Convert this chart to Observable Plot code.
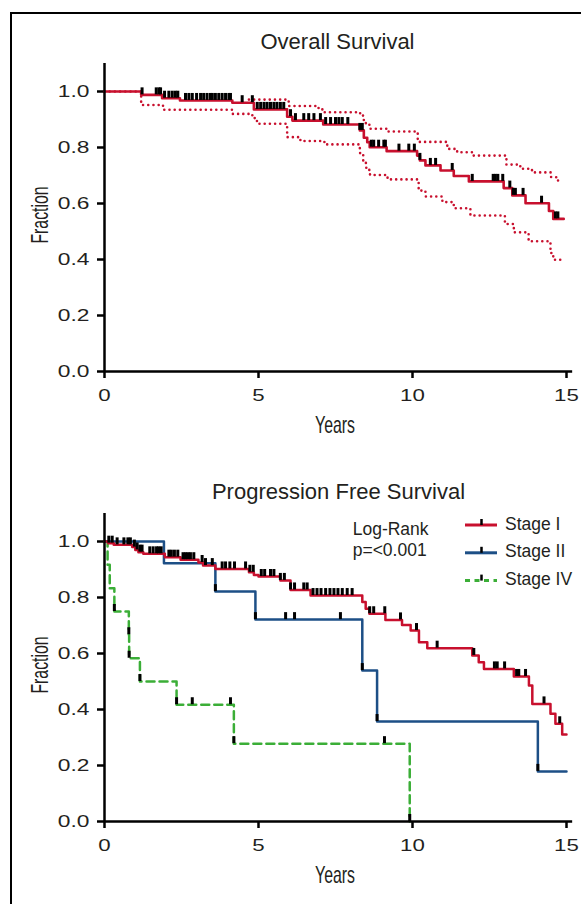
<!DOCTYPE html>
<html><head><meta charset="utf-8">
<script src="https://cdn.jsdelivr.net/npm/d3@7"></script>
<script src="https://cdn.jsdelivr.net/npm/@observablehq/plot@0.6"></script>
<style>
html,body{margin:0;padding:0;background:#fff;}
#wrap{position:relative;width:581px;height:904px;overflow:hidden;background:#fff;}
#frame{position:absolute;left:10px;top:12px;width:700px;height:1000px;border-left:2.5px solid #000;border-top:2.5px solid #000;}
</style></head>
<body><div id="wrap"><div id="frame"></div></div>
<script>
// ---------- data ----------
const xTicks = [0, 5, 10, 15];
const yTicks = [0, 0.2, 0.4, 0.6, 0.8, 1.0];

// Overall survival (Kaplan-Meier) + 95% CI
const osTime = [0, 1.19, 1.87, 2.45, 4.15, 4.85, 5.93, 6.1, 7.1, 8.29, 8.42, 8.53, 8.61, 9.16, 10.15, 10.24, 10.42, 10.91, 11.34, 11.83, 12.96, 13.24, 13.67, 14.43, 14.57, 14.91];
const osSurv = [1.0, 0.988, 0.976, 0.968, 0.96, 0.936, 0.91, 0.896, 0.882, 0.861, 0.835, 0.819, 0.801, 0.787, 0.771, 0.754, 0.736, 0.718, 0.698, 0.679, 0.655, 0.629, 0.601, 0.573, 0.545, 0.545];
const osUpperTime = [4.69, 5.98, 6.95, 7.14, 8.3, 8.42, 8.6, 9.2, 10.17, 11.13, 11.45, 11.94, 13.05, 13.5, 13.88, 14.5, 14.7, 14.78];
const osUpper = [0.971, 0.948, 0.936, 0.926, 0.914, 0.887, 0.867, 0.857, 0.82, 0.795, 0.783, 0.771, 0.739, 0.724, 0.711, 0.694, 0.682, 0.682];
const osLowerTime = [0, 1.19, 1.9, 4.15, 4.8, 4.95, 5.93, 6.36, 7.14, 8.29, 8.4, 8.5, 8.62, 9.19, 10.2, 10.42, 10.97, 11.34, 11.88, 13.0, 13.29, 13.77, 14.48, 14.57, 14.91];
const osLower = [1.0, 0.952, 0.935, 0.92, 0.905, 0.885, 0.837, 0.823, 0.811, 0.78, 0.745, 0.72, 0.702, 0.686, 0.646, 0.625, 0.605, 0.583, 0.557, 0.527, 0.497, 0.465, 0.423, 0.399, 0.399];
const osCensor = [1.22, 1.68, 1.77, 1.82, 1.95, 2.09, 2.2, 2.3, 2.38, 2.63, 2.74, 2.85, 2.99, 3.12, 3.22, 3.33, 3.44, 3.5, 3.6, 3.71, 3.82, 3.93, 4.04, 4.09, 4.47, 4.8, 4.96, 5.07, 5.18, 5.28, 5.39, 5.5, 5.6, 5.71, 5.82, 6.04, 6.2, 6.47, 6.63, 6.8, 7.01, 7.18, 7.34, 7.5, 7.61, 7.72, 7.9, 8.29, 8.37, 8.66, 8.74, 8.9, 9.07, 9.12, 9.56, 9.88, 10.06, 10.24, 10.58, 10.75, 11.29, 11.94, 12.62, 12.69, 12.77, 12.93, 13.16, 13.27, 13.34, 13.59, 14.19, 14.64, 14.72];

// Progression free survival by stage
const stageNames = ["Stage I", "Stage II", "Stage IV"];
const s1Time = [0, 0.12, 0.3, 0.9, 1.0, 1.1, 1.26, 1.96, 2.47, 3.05, 3.2, 3.6, 4.69, 4.85, 5.0, 5.71, 6.04, 6.69, 8.37, 8.48, 8.6, 9.12, 9.66, 9.94, 10.21, 10.48, 11.94, 12.15, 12.32, 13.29, 13.78, 13.89, 14.48, 14.64, 14.86, 15.0];
const s1Surv = [1.0, 0.994, 0.988, 0.98, 0.97, 0.962, 0.956, 0.944, 0.935, 0.925, 0.914, 0.902, 0.89, 0.88, 0.875, 0.861, 0.827, 0.807, 0.784, 0.76, 0.742, 0.72, 0.702, 0.682, 0.64, 0.619, 0.593, 0.569, 0.545, 0.518, 0.486, 0.42, 0.385, 0.349, 0.311, 0.311];
const s1Censor = [0.14, 0.25, 0.41, 0.63, 0.76, 0.84, 0.97, 1.06, 1.15, 1.22, 1.47, 1.58, 1.69, 1.76, 1.84, 2.09, 2.17, 2.27, 2.38, 2.55, 2.63, 2.71, 2.79, 2.9, 3.17, 3.28, 3.5, 3.82, 3.93, 4.07, 4.22, 4.58, 4.72, 4.83, 5.09, 5.2, 5.39, 5.5, 5.71, 5.84, 6.04, 6.17, 6.47, 6.58, 6.77, 6.9, 7.03, 7.18, 7.32, 7.45, 7.58, 7.72, 7.88, 8.04, 8.61, 8.74, 9.1, 9.61, 10.13, 10.8, 11.99, 12.66, 12.75, 12.99, 13.38, 13.45, 13.67, 14.27, 14.78];
const s2Time = [0, 1.93, 3.6, 4.9, 8.37, 8.85, 14.07, 15.0];
const s2Surv = [1.0, 0.922, 0.821, 0.721, 0.539, 0.357, 0.179, 0.179];
const s2Censor = [3.6, 4.9, 5.88, 6.17, 7.66, 8.37, 8.85, 14.07];
const s4Time = [0, 0.1, 0.17, 0.32, 0.79, 0.8, 1.15, 2.34, 4.2, 9.91];
const s4Surv = [1.0, 0.917, 0.833, 0.75, 0.667, 0.583, 0.5, 0.417, 0.278, 0];
const s4Censor = [0.32, 0.79, 0.8, 1.15, 2.34, 2.85, 4.09, 4.2, 9.09, 9.91];

// ---------- styling ----------
const RED = "#c8102e", BLUE = "#1d4f86", GREEN = "#3bae37", INK = "#231f20";
const FONT = "'Liberation Sans', Arial, Helvetica, sans-serif";
const TICK_H = 0.025; // censor tick height in fraction units

const pts = (T, S) => T.map((t, i) => ({t, v: S[i]}));
const survAt = (T, S, t) => { let v = S[0]; for (let i = 0; i < T.length; i++) if (T[i] <= t) v = S[i]; return v; };
const censor = (C, T, S) => C.map(t => ({t, v: survAt(T, S, t)}));

// widen tick-label glyphs horizontally (keeps the anchor point fixed)
function stretch(svg, sel, sx) {
  svg.querySelectorAll(sel).forEach(el => {
    const tr = el.getAttribute("transform") || "";
    el.setAttribute("transform", tr + ` scale(${sx},1)`);
  });
}

function panel(marks, top) {
  const svg = Plot.plot({
    width: 581, height: 440,
    marginLeft: 104, marginRight: 15, marginTop: 63, marginBottom: 69,
    x: {domain: [0, 15]},
    y: {domain: [0, 1.1]},
    style: {fontFamily: FONT, fontSize: "16.5px", color: INK, background: "transparent", overflow: "visible"},
    marks: [
      Plot.axisY({ticks: yTicks, tickFormat: d3.format(".1f"), tickSize: 7, tickPadding: 8, strokeWidth: 2.5, stroke: "#000", label: null, fontSize: 16.5}),
      Plot.axisX({ticks: xTicks, tickFormat: d3.format("d"), tickSize: 7, tickPadding: 11, strokeWidth: 2.5, stroke: "#000", label: null, fontSize: 16.5}),
      ...marks,
      Plot.ruleX([0], {y1: 0, y2: 1.1, stroke: "#000", strokeWidth: 2.5}),
      Plot.ruleY([0], {x1: 0, x2: 15.2, stroke: "#000", strokeWidth: 2.5})
    ]
  });
  stretch(svg, 'g[aria-label="y-axis tick label"] text', 1.38);
  stretch(svg, 'g[aria-label="x-axis tick label"] text', 1.35);
  svg.style.position = "absolute";
  svg.style.left = "0px";
  svg.style.top = top + "px";
  document.getElementById("wrap").appendChild(svg);
}

const tickMarks = (data) => Plot.ruleX(data, {x: "t", y1: "v", y2: d => d.v + TICK_H, stroke: "#000", strokeWidth: 3});

// Top panel: Overall Survival
panel([
  Plot.line(pts(osUpperTime, osUpper), {x: "t", y: "v", curve: "step-after", stroke: RED, strokeWidth: 2.6, strokeDasharray: "0,5.2", strokeLinecap: "round"}),
  Plot.line(pts(osLowerTime, osLower), {x: "t", y: "v", curve: "step-after", stroke: RED, strokeWidth: 2.6, strokeDasharray: "0,5.2", strokeLinecap: "round"}),
  Plot.line(pts(osTime, osSurv), {x: "t", y: "v", curve: "step-after", stroke: RED, strokeWidth: 2.6}),
  tickMarks(censor(osCensor, osTime, osSurv))
], 0);

// Bottom panel: Progression Free Survival
panel([
  Plot.line(pts(s4Time, s4Surv), {x: "t", y: "v", curve: "step-after", stroke: GREEN, strokeWidth: 2.5, strokeDasharray: "8,5"}),
  Plot.line(pts(s2Time, s2Surv), {x: "t", y: "v", curve: "step-after", stroke: BLUE, strokeWidth: 2.5}),
  Plot.line(pts(s1Time, s1Surv), {x: "t", y: "v", curve: "step-after", stroke: RED, strokeWidth: 2.5}),
  tickMarks(censor(s4Censor, s4Time, s4Surv)),
  tickMarks(censor(s2Censor, s2Time, s2Surv)),
  tickMarks(censor(s1Censor, s1Time, s1Surv))
], 450);

// ---------- titles, axis titles, legend ----------
const ov = d3.create("svg").attr("width", 581).attr("height", 904)
  .style("position", "absolute").style("left", "0px").style("top", "0px")
  .style("font-family", FONT).style("fill", INK);

const titles = [
  {text: "Overall Survival", x: 337.5, y: 49},
  {text: "Progression Free Survival", x: 338.5, y: 499}
];
titles.forEach(d => ov.append("text").attr("x", d.x).attr("y", d.y).attr("text-anchor", "middle").attr("font-size", 22).attr("fill", INK).text(d.text));

[0, 450].forEach(off => {
  ov.append("text").attr("transform", `translate(335,${433 + off}) scale(0.66,1)`).attr("text-anchor", "middle").attr("font-size", 24).attr("fill", INK).text("Years");
  ov.append("text").attr("transform", `translate(48,${215 + off}) rotate(-90) scale(0.66,1)`).attr("text-anchor", "middle").attr("font-size", 24).attr("fill", INK).text("Fraction");
});

ov.append("text").attr("x", 352.7).attr("y", 535).attr("font-size", 17.5).attr("fill", INK).text("Log-Rank");
ov.append("text").attr("x", 352.7).attr("y", 556).attr("font-size", 17.5).attr("fill", INK).text("p=<0.001");

const legendStyles = [
  {color: RED, dash: null},
  {color: BLUE, dash: null},
  {color: GREEN, dash: "5,4.5"}
];
stageNames.forEach((name, i) => {
  const ly = 525 + i * 27.8;
  const line = ov.append("line").attr("x1", 465).attr("x2", 497).attr("y1", ly).attr("y2", ly)
    .attr("stroke", legendStyles[i].color).attr("stroke-width", 3);
  if (legendStyles[i].dash) line.attr("stroke-dasharray", legendStyles[i].dash);
  ov.append("line").attr("x1", 481.5).attr("x2", 481.5).attr("y1", ly).attr("y2", ly - 6).attr("stroke", "#000").attr("stroke-width", 2.5);
  ov.append("text").attr("x", 505).attr("y", ly + 4.5).attr("font-size", 17.5).attr("fill", INK).text(name);
});

document.getElementById("wrap").appendChild(ov.node());
</script>
</body></html>
